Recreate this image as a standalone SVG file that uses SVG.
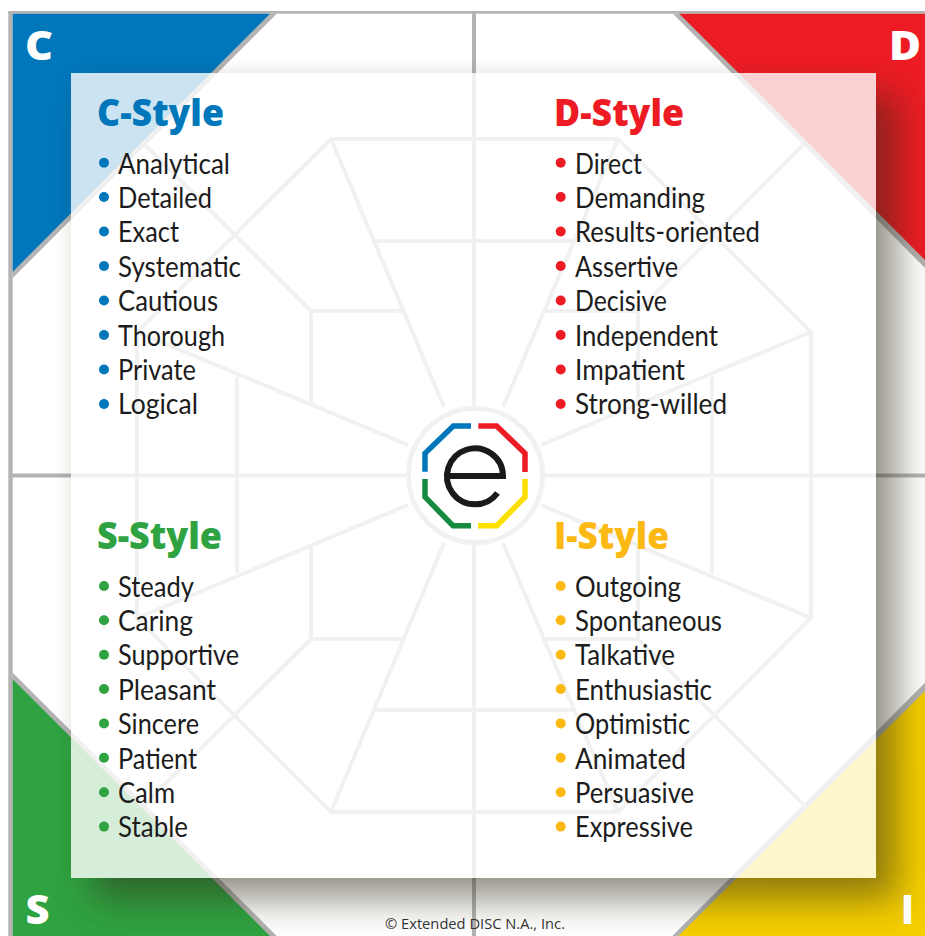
<svg xmlns="http://www.w3.org/2000/svg" width="925" height="936" viewBox="0 0 925 936">
<style>
text{font-family:"Open Sans","Noto Sans","Liberation Sans",sans-serif}
.li{font-family:Lato,"Open Sans","Liberation Sans",sans-serif;font-size:28.6px;fill:#1c1c1c}
.t{font-size:37px;font-weight:800}
.k{font-size:40px;font-weight:800;fill:#fff}
.g{fill:#b3b3b3}
.web{fill:none;stroke:#b8b8b8;stroke-width:4;stroke-linejoin:miter}
.logo{fill:none;stroke-width:5.5}
.c{fill:#0077bb}.d{fill:#ed1c24}.s{fill:#2fa341}.i{fill:#f5cf00}.iy{fill:#fdb913}
</style>
<defs>
<filter id="blur" filterUnits="userSpaceOnUse" x="0" y="0" width="925" height="936"><feGaussianBlur stdDeviation="18"/></filter>
<filter id="glow" filterUnits="userSpaceOnUse" x="0" y="0" width="925" height="936"><feGaussianBlur stdDeviation="7"/></filter>
<clipPath id="outside"><path clip-rule="evenodd" d="M0 0H925V936H0ZM71 73V878H876V73Z"/></clipPath>
</defs>
<rect width="925" height="936" fill="#fff"/>
<g id="frame">
<rect class="g" x="8.3" y="11" width="916.7" height="2.7"/>
<rect class="g" x="8.3" y="11" width="4.4" height="925"/>
<rect class="g" x="472" y="13" width="4" height="923"/>
<rect class="g" x="12" y="473.5" width="913" height="4"/>
</g>
<g id="corners">
<polygon class="g" points="12.7,13.7 276.7,13.7 12.7,278"/>
<polygon class="c" points="12.7,13.7 270,13.7 12.7,271.7"/>
<polygon class="g" points="673,13.7 925,13.7 925,268"/>
<polygon class="d" points="679.3,13.7 925,13.7 925,260"/>
<polygon class="g" points="12.7,672.7 276.7,936 12.7,936"/>
<polygon class="s" points="12.7,679.3 270,936 12.7,936"/>
<polygon class="g" points="925,682.7 672.3,936 925,936"/>
<polygon class="i" points="925,691 678.3,936 925,936"/>
</g>
<g id="connectors" class="web">
<path d="M331 139H618L811 332V618L618 812H331L137 618V332Z"/>
<path d="M331 139L444 407M618 139L503 407M137 332L408 445M811 332L541 445M137 618L408 505M811 618L541 505M331 812L444 543M618 812L503 543"/>
<path d="M145 145L311 311M803 145L638 311M145 804L311 639M803 804L638 639"/>
<path d="M375 241H574M375 710H574M237 377V573M712 377V573"/>
<path d="M403 311H311V405M546 311H638V405M403 639H311V546M546 639H638V546"/>
<circle cx="475.5" cy="475.5" r="67" fill="#fff" stroke-width="5"/>
</g>
<rect id="shadow-glow" x="71" y="73" width="805" height="805" fill="#6a6440" opacity=".06" filter="url(#glow)" clip-path="url(#outside)"/>
<rect id="shadow" x="93" y="95" width="805" height="805" fill="#2e2a18" opacity=".5" filter="url(#blur)" clip-path="url(#outside)"/>
<rect id="panel" x="71" y="73" width="805" height="805" fill="#fff" opacity=".8"/>
<g id="logo">
<circle cx="475.5" cy="475.5" r="64.5" fill="#fff"/>
<path class="logo" stroke="#0077bb" d="M471 426H453.3L425 453.3V471.7"/>
<path class="logo" stroke="#ed1c24" d="M478.3 426H496.7L525 453.3V472"/>
<path class="logo" stroke="#168a3e" d="M425 479V497L453 525.7H471"/>
<path class="logo" stroke="#fce000" d="M478 525.7H496.7L525 497V479"/>
<path fill="none" stroke="#1a1a1a" stroke-width="6" d="M447 476H503A28 28 0 1 0 497.5 493"/>
</g>
<g id="corner-letters">
<text class="k" x="25" y="60" textLength="28" lengthAdjust="spacingAndGlyphs">C</text>
<text class="k" x="889" y="60" textLength="32" lengthAdjust="spacingAndGlyphs">D</text>
<text class="k" x="25.5" y="924" textLength="24" lengthAdjust="spacingAndGlyphs">S</text>
<text class="k" x="901" y="924" textLength="13" lengthAdjust="spacingAndGlyphs">I</text>
</g>
<g id="c-style">
<text class="t c" x="97" y="125.5" textLength="127" lengthAdjust="spacingAndGlyphs">C-Style</text>
<g class="c"><circle cx="104" cy="162.7" r="5"/><circle cx="104" cy="197" r="5"/><circle cx="104" cy="231.5" r="5"/><circle cx="104" cy="266" r="5"/><circle cx="104" cy="300.5" r="5"/><circle cx="104" cy="335" r="5"/><circle cx="104" cy="369.5" r="5"/><circle cx="104" cy="404" r="5"/></g>
<text class="li" x="118" y="173.5" textLength="112" lengthAdjust="spacingAndGlyphs">Analytical</text>
<text class="li" x="118" y="208" textLength="94" lengthAdjust="spacingAndGlyphs">Detailed</text>
<text class="li" x="118" y="242.4" textLength="61" lengthAdjust="spacingAndGlyphs">Exact</text>
<text class="li" x="118" y="276.8" textLength="123" lengthAdjust="spacingAndGlyphs">Systematic</text>
<text class="li" x="118" y="311.2" textLength="100" lengthAdjust="spacingAndGlyphs">Cautious</text>
<text class="li" x="118" y="345.6" textLength="107" lengthAdjust="spacingAndGlyphs">Thorough</text>
<text class="li" x="118" y="380" textLength="78" lengthAdjust="spacingAndGlyphs">Private</text>
<text class="li" x="118" y="414.4" textLength="80" lengthAdjust="spacingAndGlyphs">Logical</text>
</g>
<g id="d-style">
<text class="t d" x="554" y="125.5" textLength="130" lengthAdjust="spacingAndGlyphs">D-Style</text>
<g class="d"><circle cx="560.7" cy="162.7" r="5"/><circle cx="560.7" cy="197" r="5"/><circle cx="560.7" cy="231.5" r="5"/><circle cx="560.7" cy="266" r="5"/><circle cx="560.7" cy="300.5" r="5"/><circle cx="560.7" cy="335" r="5"/><circle cx="560.7" cy="369.5" r="5"/><circle cx="560.7" cy="404" r="5"/></g>
<text class="li" x="575" y="173.5" textLength="67" lengthAdjust="spacingAndGlyphs">Direct</text>
<text class="li" x="575" y="208" textLength="130" lengthAdjust="spacingAndGlyphs">Demanding</text>
<text class="li" x="575" y="242.4" textLength="185" lengthAdjust="spacingAndGlyphs">Results-oriented</text>
<text class="li" x="575" y="276.8" textLength="103" lengthAdjust="spacingAndGlyphs">Assertive</text>
<text class="li" x="575" y="311.2" textLength="92" lengthAdjust="spacingAndGlyphs">Decisive</text>
<text class="li" x="575" y="345.6" textLength="143" lengthAdjust="spacingAndGlyphs">Independent</text>
<text class="li" x="575" y="380" textLength="110" lengthAdjust="spacingAndGlyphs">Impatient</text>
<text class="li" x="575" y="414.4" textLength="152" lengthAdjust="spacingAndGlyphs">Strong-willed</text>
</g>
<g id="s-style">
<text class="t s" x="97" y="548.7" textLength="125" lengthAdjust="spacingAndGlyphs">S-Style</text>
<g class="s"><circle cx="104" cy="586" r="5"/><circle cx="104" cy="620.3" r="5"/><circle cx="104" cy="654.7" r="5"/><circle cx="104" cy="689" r="5"/><circle cx="104" cy="723.4" r="5"/><circle cx="104" cy="757.8" r="5"/><circle cx="104" cy="792.2" r="5"/><circle cx="104" cy="826.6" r="5"/></g>
<text class="li" x="118" y="596.5" textLength="76" lengthAdjust="spacingAndGlyphs">Steady</text>
<text class="li" x="118" y="631" textLength="75" lengthAdjust="spacingAndGlyphs">Caring</text>
<text class="li" x="118" y="665.4" textLength="121" lengthAdjust="spacingAndGlyphs">Supportive</text>
<text class="li" x="118" y="699.8" textLength="98" lengthAdjust="spacingAndGlyphs">Pleasant</text>
<text class="li" x="118" y="734.2" textLength="81" lengthAdjust="spacingAndGlyphs">Sincere</text>
<text class="li" x="118" y="768.6" textLength="79" lengthAdjust="spacingAndGlyphs">Patient</text>
<text class="li" x="118" y="803" textLength="57" lengthAdjust="spacingAndGlyphs">Calm</text>
<text class="li" x="118" y="837.4" textLength="70" lengthAdjust="spacingAndGlyphs">Stable</text>
</g>
<g id="i-style">
<text class="t iy" x="554" y="548.7" textLength="115" lengthAdjust="spacingAndGlyphs">I-Style</text>
<g class="iy"><circle cx="560.7" cy="586" r="5"/><circle cx="560.7" cy="620.3" r="5"/><circle cx="560.7" cy="654.7" r="5"/><circle cx="560.7" cy="689" r="5"/><circle cx="560.7" cy="723.4" r="5"/><circle cx="560.7" cy="757.8" r="5"/><circle cx="560.7" cy="792.2" r="5"/><circle cx="560.7" cy="826.6" r="5"/></g>
<text class="li" x="575" y="596.5" textLength="106" lengthAdjust="spacingAndGlyphs">Outgoing</text>
<text class="li" x="575" y="631" textLength="147" lengthAdjust="spacingAndGlyphs">Spontaneous</text>
<text class="li" x="575" y="665.4" textLength="100" lengthAdjust="spacingAndGlyphs">Talkative</text>
<text class="li" x="575" y="699.8" textLength="137" lengthAdjust="spacingAndGlyphs">Enthusiastic</text>
<text class="li" x="575" y="734.2" textLength="115" lengthAdjust="spacingAndGlyphs">Optimistic</text>
<text class="li" x="575" y="768.6" textLength="111" lengthAdjust="spacingAndGlyphs">Animated</text>
<text class="li" x="575" y="803" textLength="119" lengthAdjust="spacingAndGlyphs">Persuasive</text>
<text class="li" x="575" y="837.4" textLength="118" lengthAdjust="spacingAndGlyphs">Expressive</text>
</g>
<text id="copyright" x="385" y="929" font-size="14" fill="#333" textLength="180" lengthAdjust="spacingAndGlyphs">© Extended DISC N.A., Inc.</text>
</svg>
